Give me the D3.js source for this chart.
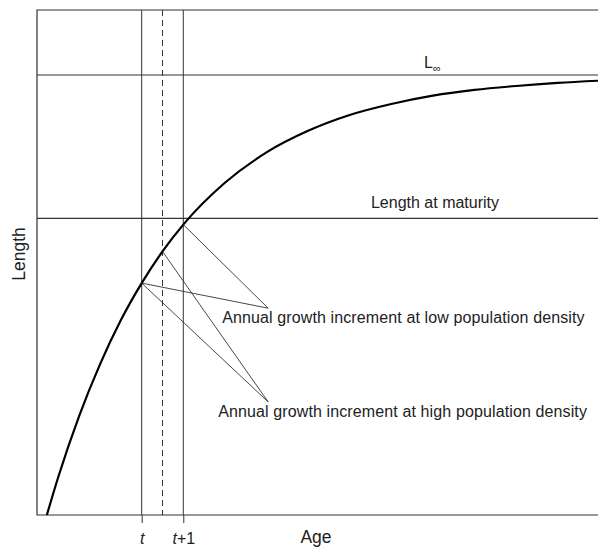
<!DOCTYPE html>
<html>
<head>
<meta charset="utf-8">
<script src="https://cdn.jsdelivr.net/npm/d3@7"></script>
<style>
  body { margin: 0; background: #fff; }
  svg { display: block; font-family: "Liberation Sans", Arial, Helvetica, sans-serif; }
</style>
</head>
<body>
<div id="chart"></div>
<script>
// growth curve (age in years, length in % of L-infinity)
const ages    = [0.72, 1, 1.5, 2, 2.5, 3, 3.5, 4, 5, 6, 7, 8, 9, 10, 11, 12, 13, 14];
const lengths = [0, 8.8, 22.6, 34.3, 44.3, 52.7, 59.9, 66.0, 75.5, 82.4, 87.3, 90.9, 93.4, 95.3, 96.6, 97.5, 98.2, 98.7];

const lInf = 100;
const lMaturity = 67.4;
const midAge = 3.5;
const tickAges = [3, 4];
const tickLabels = ["t", "t+1"];

// annotation leaders: [from age, from length] -> label anchor
const lowAnchor  = [6.04, 47.0];
const highAnchor = [6.04, 25.7];
const lowFrom  = [[3, 52.7], [4, 66.0]];
const highFrom = [[3, 52.7], [3.5, 59.9]];

const lowLabel  = "Annual growth increment at low population density";
const highLabel = "Annual growth increment at high population density";

const W = 598, H = 547;
const boxL = 37, boxT = 10, boxB = 515, boxR = 600;

const svg = d3.select("#chart").append("svg")
    .attr("width", W)
    .attr("height", H);

const x = d3.scaleLinear().domain([0.483, 13.97]).range([boxL, 598]);
const y = d3.scaleLinear().domain([0, 114.77]).range([boxB, boxT]);

const ink = "#333";

// frame
svg.append("path")
    .attr("d", `M${boxR},${boxT}H${boxL}V${boxB}H${boxR}`)
    .attr("fill", "none")
    .attr("stroke", ink)
    .attr("stroke-width", 1.2);

// horizontal reference lines
svg.selectAll(".href")
    .data([lInf, lMaturity])
    .enter().append("line")
    .attr("x1", boxL).attr("x2", boxR)
    .attr("y1", d => y(d)).attr("y2", d => y(d))
    .attr("stroke", ink)
    .attr("stroke-width", 1.2);

// verticals at t and t+1
svg.selectAll(".vref")
    .data(tickAges)
    .enter().append("line")
    .attr("x1", d => x(d)).attr("x2", d => x(d))
    .attr("y1", boxT).attr("y2", boxB)
    .attr("stroke", ink)
    .attr("stroke-width", 1);

svg.append("line")
    .attr("x1", x(midAge)).attr("x2", x(midAge))
    .attr("y1", boxT).attr("y2", boxB)
    .attr("stroke", ink)
    .attr("stroke-width", 1)
    .attr("stroke-dasharray", "6,4");

// x axis ticks
const xAxis = d3.axisBottom(x)
    .tickValues(tickAges)
    .tickSize(8)
    .tickSizeOuter(0)
    .tickFormat((d, i) => tickLabels[i]);

const gx = svg.append("g")
    .attr("transform", `translate(0,${boxB})`)
    .call(xAxis);
gx.select(".domain").remove();
gx.selectAll(".tick line").attr("stroke", ink).attr("stroke-width", 1);
gx.selectAll(".tick text")
    .attr("y", 18)
    .attr("dy", "0.71em")
    .attr("fill", "#222")
    .style("font-size", "16px")
    .each(function(d, i) {
        const el = d3.select(this).text(null);
        el.append("tspan").attr("font-style", "italic").text("t");
        if (i === 1) el.append("tspan").text("+1");
    });

// growth curve
const line = d3.line()
    .x((d, i) => x(ages[i]))
    .y(d => y(d))
    .curve(d3.curveMonotoneX);

svg.append("path")
    .datum(lengths)
    .attr("d", line)
    .attr("fill", "none")
    .attr("stroke", "#000")
    .attr("stroke-width", 2.2);

// leader lines
const leaders = [
    ...lowFrom.map(p => [p, lowAnchor]),
    ...highFrom.map(p => [p, highAnchor])
];
svg.selectAll(".leader")
    .data(leaders)
    .enter().append("line")
    .attr("x1", d => x(d[0][0])).attr("y1", d => y(d[0][1]))
    .attr("x2", d => x(d[1][0])).attr("y2", d => y(d[1][1]))
    .attr("stroke", ink)
    .attr("stroke-width", 0.9);

const txt = (sx, sy, s, size) => svg.append("text")
    .attr("x", sx).attr("y", sy)
    .attr("fill", "#222")
    .style("font-size", size + "px")
    .text(s);

txt(x(lowAnchor[0]) - 46, y(lowAnchor[1]) + 15, lowLabel, 16).style("letter-spacing", "0.12px");
txt(x(highAnchor[0]) - 50, y(highAnchor[1]) + 15, highLabel, 16).style("letter-spacing", "0.12px");

txt(435, y(lMaturity) - 10, "Length at maturity", 16).attr("text-anchor", "middle");

const linf = txt(424, y(lInf) - 7, "L", 16);
linf.append("tspan").attr("dy", 4).style("font-size", "11px").text("∞");

// axis titles
txt(316, 543, "Age", 17.5).attr("text-anchor", "middle");
svg.append("text")
    .attr("transform", `translate(25,254) rotate(-90)`)
    .attr("text-anchor", "middle")
    .attr("fill", "#222")
    .style("font-size", "17.5px")
    .text("Length");
</script>
</body>
</html>
